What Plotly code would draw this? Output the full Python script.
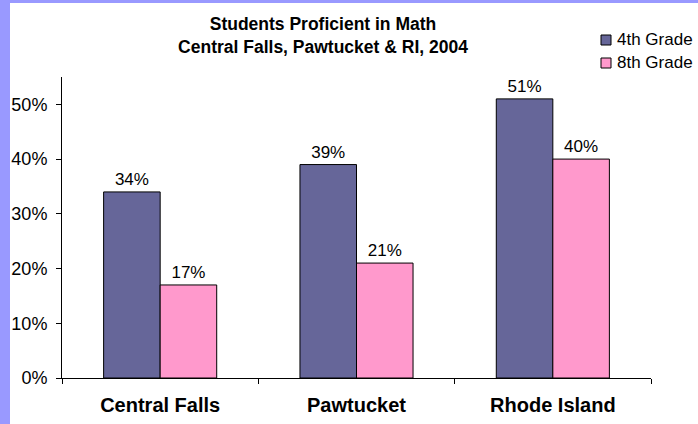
import plotly.graph_objects as go

categories = ["Central Falls", "Pawtucket", "Rhode Island"]
series_names = ["4th Grade", "8th Grade"]
grade4 = [0.34, 0.39, 0.51]
grade8 = [0.17, 0.21, 0.40]
colors = ["#666699", "#FF99CC"]
y_ticks = [0, 0.1, 0.2, 0.3, 0.4, 0.5]
y_tick_labels = ["0%", "10%", "20%", "30%", "40%", "50%"]

W, H = 698, 424
L, R, T, B = 62, 47, 77, 46
pw = W - L - R
ph = H - T - B
FONT = "Liberation Sans, Arial"


def px_x(px):
    return (px - L) / pw


def px_y(py):
    return (H - B - py) / ph


fig = go.Figure()
for name, vals, col in zip(series_names, [grade4, grade8], colors):
    fig.add_trace(go.Bar(
        x=categories, y=vals, name=name,
        marker=dict(color=col, line=dict(color="#000000", width=1)),
        text=[f"{round(v*100)}%" for v in vals],
        textposition="outside", constraintext="none", cliponaxis=False,
        textfont=dict(family=FONT, size=17, color="#000000"),
        showlegend=False,
    ))

shapes = [
    dict(type="rect", xref="paper", yref="paper",
         x0=px_x(0), x1=px_x(10), y0=px_y(H), y1=px_y(0),
         fillcolor="#9999FF", line=dict(width=0), layer="below"),
    dict(type="rect", xref="paper", yref="paper",
         x0=px_x(0), x1=px_x(W), y0=px_y(3), y1=px_y(0),
         fillcolor="#9999FF", line=dict(width=0), layer="below"),
]
annotations = []
legend_rows = [40, 63]
for name, col, yc in zip(series_names, colors, legend_rows):
    shapes.append(dict(type="rect", xref="paper", yref="paper",
                       x0=px_x(601), x1=px_x(611), y0=px_y(yc + 5), y1=px_y(yc - 5),
                       fillcolor=col, line=dict(color="#000000", width=1)))
    annotations.append(dict(xref="paper", yref="paper", x=px_x(615), y=px_y(yc),
                            xanchor="left", yanchor="middle", text=name, showarrow=False,
                            font=dict(family=FONT, size=17, color="#000000")))

fig.update_layout(
    width=W, height=H,
    margin=dict(l=L, r=R, t=T, b=B, autoexpand=False),
    paper_bgcolor="white", plot_bgcolor="white",
    barmode="group", bargap=0.424, bargroupgap=0,
    font=dict(family=FONT, color="#000000"),
    title=dict(
        text="<b>Students Proficient in Math<br>Central Falls, Pawtucket & RI, 2004</b>",
        font=dict(size=17.5, family=FONT, color="#000000"),
        x=px_x(323), xref="paper", xanchor="center",
        y=1 - 30 / H, yref="container", yanchor="top",
    ),
    showlegend=False,
    xaxis=dict(
        showline=True, linecolor="#000000", linewidth=1,
        ticks="outside", tickson="boundaries", ticklen=5, tickcolor="#000000",
        tickfont=dict(size=20, family=FONT),
        tickvals=categories, ticktext=[f"<b>{c}</b>" for c in categories],
        ticklabelstandoff=9, showgrid=False, zeroline=False,
    ),
    yaxis=dict(
        range=[0, 0.55], tickvals=y_ticks, ticktext=y_tick_labels,
        showline=True, linecolor="#000000", linewidth=1,
        ticks="outside", ticklen=5, tickcolor="#000000",
        tickfont=dict(size=18, family=FONT),
        ticklabelstandoff=5, showgrid=False, zeroline=False,
    ),
    shapes=shapes,
    annotations=annotations,
)

fig.write_html("out.html", config={"displayModeBar": False},
               post_script="document.body.style.margin='0';document.body.style.overflow='hidden';")
